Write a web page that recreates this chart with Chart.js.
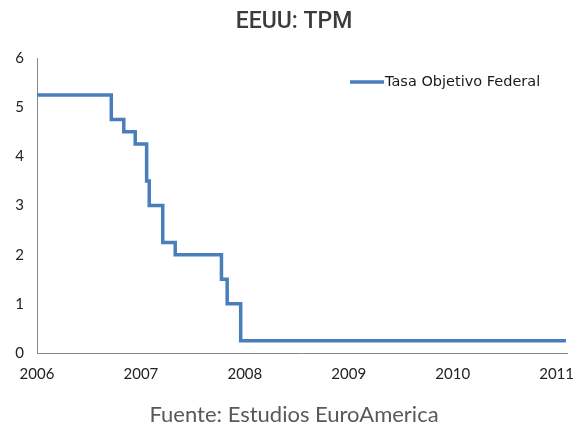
<!DOCTYPE html>
<html>
<head>
<meta charset="utf-8">
<script src="https://cdn.jsdelivr.net/npm/chart.js@4/dist/chart.umd.min.js"></script>
<style>
html,body{margin:0;padding:0;background:#fff;}
#wrap{width:574px;height:425px;}
</style>
</head>
<body>
<div id="wrap"><canvas id="c" width="574" height="425"></canvas></div>
<script>
// Data (x in fractional years as drawn on the axis)
const stepDates = [2006.00, 2006.715, 2006.835, 2006.945, 2007.055, 2007.08, 2007.21, 2007.33, 2007.775, 2007.83, 2007.96, 2011.09];
const stepRates = [5.25, 4.75, 4.50, 4.25, 3.50, 3.00, 2.25, 2.00, 1.50, 1.00, 0.25, 0.25];
const yearTicks = [2006, 2007, 2008, 2009, 2010, 2011];
const seriesName = 'Tasa Objetivo Federal';
const chartTitle = 'EEUU: TPM';
const sourceNote = 'Fuente: Estudios EuroAmerica';

const points = stepDates.map((d, i) => ({x: d, y: stepRates[i]}));

const insideLegend = {
  id: 'insideLegend',
  afterDraw(chart) {
    const ctx = chart.ctx, ds = chart.data.datasets[0], a = chart.chartArea;
    const x0 = a.left + 313, y0 = a.top + 24;
    ctx.save();
    ctx.strokeStyle = ds.borderColor;
    ctx.lineWidth = ds.borderWidth;
    ctx.beginPath(); ctx.moveTo(x0, y0); ctx.lineTo(x0 + 34, y0); ctx.stroke();
    ctx.fillStyle = '#1a1a1a';
    ctx.font = '14.5px "DejaVu Sans", sans-serif';
    ctx.textBaseline = 'middle';
    ctx.fillText(ds.label, x0 + 35, y0);
    ctx.restore();
  }
};

new Chart(document.getElementById('c'), {
  type: 'line',
  data: {
    datasets: [{
      label: seriesName,
      data: points,
      stepped: 'before',
      borderColor: '#4A7EBB',
      borderWidth: 3.5,
      pointRadius: 0,
      fill: false
    }]
  },
  options: {
    responsive: false,
    animation: false,
    layout: {padding: {left: 14, right: 0, top: 0, bottom: 0}},
    plugins: {
      legend: {display: false},
      tooltip: {enabled: false},
      title: {
        display: true, text: chartTitle, color: '#3c3c3c',
        font: {family: 'Roboto, sans-serif', size: 23, weight: '500'},
        padding: {top: 8, bottom: 22.4}
      },
      subtitle: {
        display: true, text: sourceNote, position: 'bottom', color: '#595959',
        font: {family: 'Lato, sans-serif', size: 22, weight: 'normal'},
        padding: {top: 11.6, bottom: -3}
      }
    },
    scales: {
      x: {
        type: 'linear', min: 2006, max: 2011.1,
        afterBuildTicks: s => { s.ticks = yearTicks.map(v => ({value: v})); },
        afterFit: s => { s.paddingRight = 7; s.paddingLeft = 0; },
        grid: {display: false, drawTicks: true, tickLength: 5, color: '#868686'},
        border: {display: true, color: '#868686', width: 1},
        ticks: {color: '#222', font: {family: 'Lato, sans-serif', size: 15}, padding: 7, maxRotation: 0, callback: v => String(v)}
      },
      y: {
        min: 0, max: 6,
        afterFit: s => { s.width = 23; },
        grid: {display: false, drawTicks: true, tickLength: 5, color: '#868686'},
        border: {display: true, color: '#868686', width: 1},
        ticks: {stepSize: 1, color: '#222', font: {family: 'Lato, sans-serif', size: 15}, padding: 8}
      }
    }
  },
  plugins: [insideLegend]
});
</script>
</body>
</html>
